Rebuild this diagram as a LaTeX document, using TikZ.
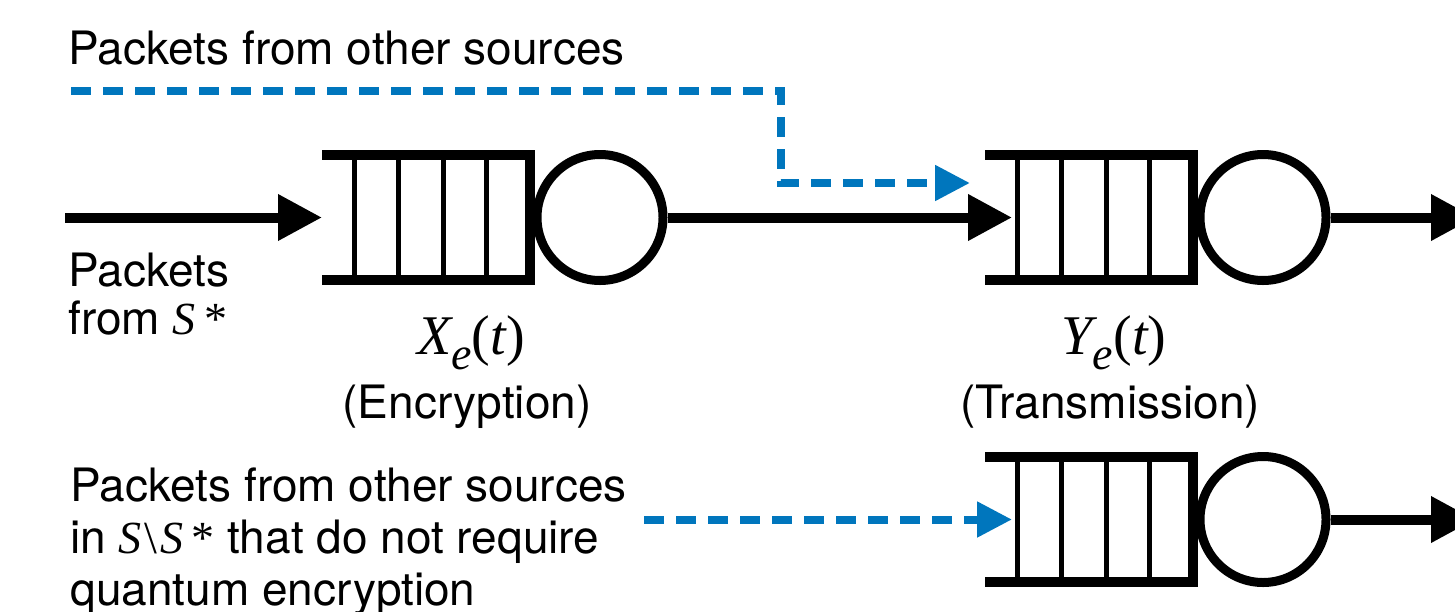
\documentclass[tikz,border=0pt]{standalone}
\usepackage{fontspec}
\setmainfont{TeX Gyre Heros}
\newfontfamily\tms{Liberation Serif}
\usetikzlibrary{arrows.meta,calc}

\definecolor{srcblue}{RGB}{0,118,189}

% label fonts
\newcommand\lblfont{\fontsize{23}{26}\selectfont}
\newcommand\mvar[1]{{\tms\itshape #1}}
% queue length label: italic letter, lowered subscript e, then (t)
\newcommand\qlen[1]{{\tms\fontsize{28}{30}\selectfont\itshape #1\raisebox{-7.5pt}{\fontsize{23}{24}\selectfont e}\upshape(\itshape t\upshape)}}

% one queue: an open-ended buffer with four slots
\newcommand\drawqueue[2]{%
  \node[qbuf] (#1) at (#2) {};
  \draw[qwall] (#1.north west) -- (#1.north east) -- (#1.south east) -- (#1.south west);
  \foreach \f in {0.154,0.370,0.582,0.793}
    \draw[qslot] ($(#1.north west)!\f!(#1.north east)$) -- ($(#1.south west)!\f!(#1.south east)$);
}

\begin{document}
\begin{tikzpicture}[x=0.5pt,y=-0.5pt,
  qbuf/.style={rectangle,draw=none,inner sep=0pt,outer sep=0pt,minimum width=104pt,minimum height=62.5pt},
  qwall/.style={line width=5pt,line join=miter},
  qslot/.style={line width=2.5pt},
  server/.style={circle,draw,line width=4.5pt,inner sep=0pt,minimum size=63pt},
  arr/.style={line width=5pt,-{Triangle[length=22pt,width=22pt]}},
  barr/.style={srcblue,line width=4pt,dash pattern=on 10pt off 6pt,-{Triangle[length=17.5pt,width=17pt]}},
  lbl/.style={inner sep=0pt,font=\lblfont},
]
\useasboundingbox (0,0) rectangle (1455,611);

% queues and servers
\drawqueue{q1}{426,217.5}
\node[server] (s1) at ($(q1.east)+(70,0)$) {};
\drawqueue{q2}{1089,217.5}
\node[server] (s2) at ($(q2.east)+(70,0)$) {};
\drawqueue{q3}{1089,519.5}
\node[server] (s3) at ($(q3.east)+(70,0)$) {};

% arrival and departure points
\coordinate (in1) at (65,217.5);
\coordinate (q2in) at ($(q2.west)!0.13!(q2.east)$);
\coordinate (q3in) at ($(q3.west)!0.13!(q3.east)$);
\coordinate (out2) at (1475,217.5);
\coordinate (out3) at (1475,519.5);
\coordinate (b1) at (71,91);
\coordinate (b1e) at (970,183);
\coordinate (b2) at (644,519.5);

% black flows
\draw[arr] (in1) -- (q1.west);
\draw[arr] (s1.east) -- (q2in);
\draw[arr] (s2.east) -- (out2);
\draw[arr] (s3.east) -- (out3);

% traffic from other sources
\draw[barr] (b1) -- ++(710,0) |- (b1e);
\draw[barr] (b2) -- (q3in);

% labels (multi-line nodes sit on the baseline of their last line)
\node[lbl,anchor=base west] (t1) at (68,64) {Packets from other sources};
\node[lbl,anchor=base west,align=left,font={\fontsize{23}{24}\selectfont}] (t2) at (68,334)
  {Packets\\from \mvar{S}\hspace{0.18em}{\tms *}};
\node[lbl,anchor=base] (xl) at (471,354) {\qlen{X}};
\node[lbl,anchor=base] (xe) at (467,418) {(Encryption)};
\node[lbl,anchor=base] (yl) at (1114,354) {\qlen{Y}};
\node[lbl,anchor=base] (ye) at (1110,418) {(Transmission)};
\node[lbl,anchor=base west,align=left] (t3) at (70,605)
  {Packets from other sources\\in \mvar{S}\hspace{0.06em}{\tms\textbackslash}\hspace{0.06em}\mvar{S}\hspace{0.18em}{\tms *} that do not require\\quantum encryption};
\end{tikzpicture}
\end{document}
